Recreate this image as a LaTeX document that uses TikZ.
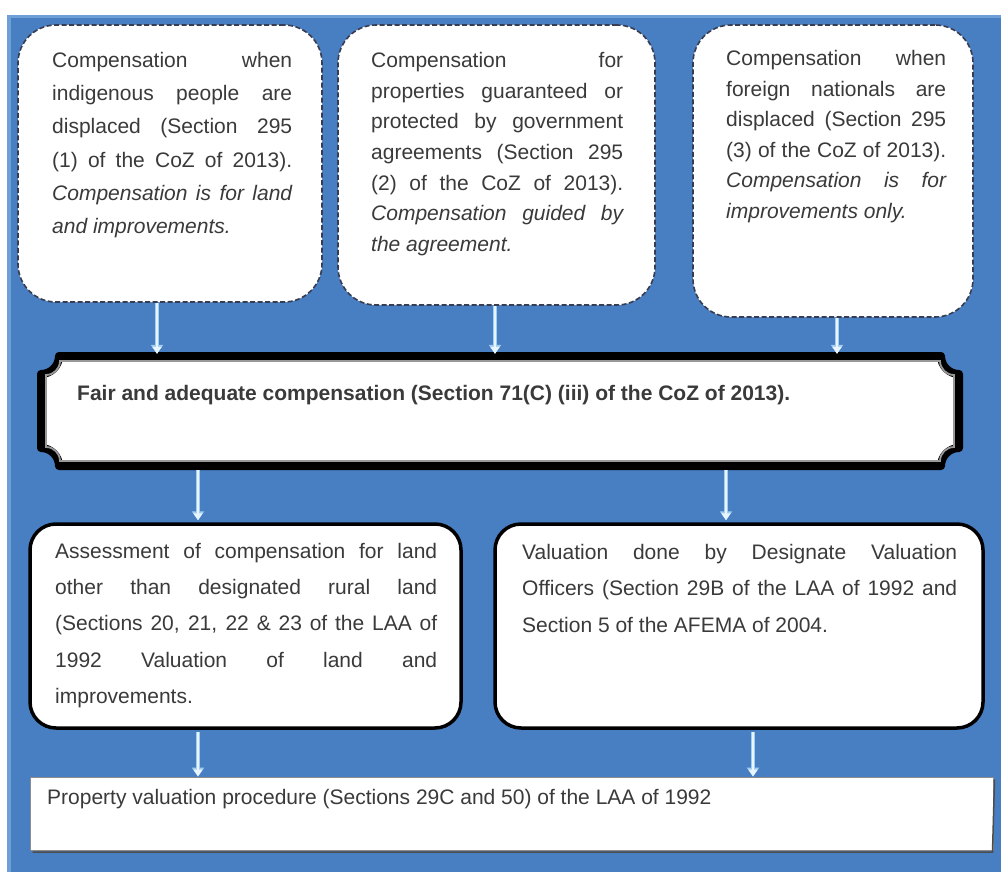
\documentclass[tikz,border=0pt]{standalone}
\usepackage{fontspec}
\setmainfont{Liberation Sans}
\usetikzlibrary{arrows.meta,calc}
\definecolor{bgblue}{RGB}{72,126,194}
\definecolor{bgedge}{RGB}{110,160,215}
\definecolor{txtc}{RGB}{58,58,58}
\definecolor{arrc}{RGB}{232,245,255}
\definecolor{arrd}{RGB}{160,205,240}
\definecolor{dashc}{RGB}{55,60,80}
\hbadness=10000
\begin{document}
\begin{tikzpicture}[x=1pt,y=-1pt,
  topbox/.style={draw=dashc, line width=1.6pt, dash pattern=on 5pt off 2.5pt, fill=white, rounded corners=38pt, inner sep=0pt},
  midbox/.style={draw=black, line width=3.5pt, fill=white, rounded corners=26pt, inner sep=0pt},
  botbox/.style={draw=black!45, line width=1pt, fill=white, inner sep=0pt},
  hidden/.style={inner sep=0pt},
  txt/.style={inner sep=0pt, anchor=north west, text=txtc, align=justify},
  arrhalo/.style={draw=arrd, line width=4.6pt, -{Triangle[length=9pt,width=12pt]}},
  arr/.style={draw=arrc, line width=2.8pt, -{Triangle[length=7pt,width=9pt]}}]
\useasboundingbox (0,0) rectangle (1001,872);
\fill[white] (0,0) rectangle (1001,872);
\fill[bgblue] (7,15) rectangle (1001,872);
\fill[bgedge] (7,15) rectangle (11,872);
\fill[bgedge] (7,15) rectangle (1001,18);

% top boxes
\node[topbox, minimum width=304pt, minimum height=277pt] (b1) at (170,163.5) {};
\node[topbox, minimum width=317pt, minimum height=280pt] (b2) at (496.5,165) {};
\node[topbox, minimum width=280pt, minimum height=292pt] (b3) at (833,171) {};

\node[txt, text width=240pt, font=\fontsize{21}{33.2}\selectfont] (t1) at (52,52)
{Compensation when\linebreak indigenous people are\linebreak displaced (Section 295\linebreak (1) of the CoZ of 2013).\linebreak \textit{Compensation is for land\linebreak and improvements.}};
\node[txt, text width=252pt, font=\fontsize{21}{30.7}\selectfont] (t2) at (371,52)
{Compensation for\linebreak properties guaranteed or\linebreak protected by government\linebreak agreements (Section 295\linebreak (2) of the CoZ of 2013).\linebreak \textit{Compensation guided by\linebreak the agreement.}};
\node[txt, text width=220pt, font=\fontsize{21}{30.6}\selectfont] (t3) at (726,50)
{Compensation when\linebreak foreign nationals are\linebreak displaced (Section 295\linebreak (3) of the CoZ of 2013).\linebreak \textit{Compensation is for\linebreak improvements only.}};

% banner (plaque)
\node[hidden, minimum width=918pt, minimum height=110pt] (fair) at (500,411) {};
\def\plaque#1#2#3#4#5{%
  (#1+#5,#2) -- (#3-#5,#2)
  .. controls (#3-#5,#2+0.55*#5) and (#3-0.55*#5,#2+#5) .. (#3,#2+#5)
  -- (#3,#4-#5)
  .. controls (#3-0.55*#5,#4-#5) and (#3-#5,#4-0.55*#5) .. (#3-#5,#4)
  -- (#1+#5,#4)
  .. controls (#1+#5,#4-0.55*#5) and (#1+0.55*#5,#4-#5) .. (#1,#4-#5)
  -- (#1,#2+#5)
  .. controls (#1+0.55*#5,#2+#5) and (#1+#5,#2+0.55*#5) .. (#1+#5,#2) -- cycle}
\draw[black, line width=8pt, fill=white, line join=round] \plaque{41}{356}{959}{466}{18};
\draw[black!40, line width=1.8pt] \plaque{46}{361}{954}{461}{14};
\node[inner sep=0pt, anchor=base west, text=txtc, font=\bfseries\fontsize{21}{25}\selectfont] (ft) at (77,400)
{Fair and adequate compensation (Section 71(C) (iii) of the CoZ of 2013).};

% middle boxes
\node[midbox, minimum width=431pt, minimum height=204pt] (m1) at (245.5,626) {};
\node[midbox, minimum width=488pt, minimum height=204pt] (m2) at (739,626) {};
\node[txt, text width=382pt, font=\fontsize{21}{36.2}\selectfont] (t4) at (55,543)
{Assessment of compensation for land\linebreak other than designated rural land\linebreak (Sections 20, 21, 22 \& 23 of the LAA of\linebreak 1992 Valuation of land and\linebreak improvements.};
\node[txt, text width=435pt, font=\fontsize{21}{36.5}\selectfont] (t5) at (522,544)
{Valuation done by Designate Valuation\linebreak Officers (Section 29B of the LAA of 1992 and\linebreak Section 5 of the AFEMA of 2004.};

% bottom box
\node[botbox, minimum width=963pt, minimum height=73pt] (bt) at (511.5,813.5) {};
\draw[black!70, line width=1.5pt] (bt.south west) ++(3,1.5) -- ($(bt.south east)+(-1,1.5)$) -- ($(bt.north east)+(1,3)$);
\node[inner sep=0pt, anchor=base west, text=txtc, font=\fontsize{21}{25}\selectfont] (t6) at (47,804)
{Property valuation procedure (Sections 29C and 50) of the LAA of 1992};

% connectors
\coordinate (xa) at (157,0);
\coordinate (xb) at (495,0);
\coordinate (xc) at (837,0);
\coordinate (xd) at (198,0);
\coordinate (xe) at (726,0);
\coordinate (xf) at (753,0);
\foreach \s in {arrhalo,arr}{
\draw[\s] (b1.south -| xa) -- ([yshift=2pt]fair.north -| xa);
\draw[\s] (b2.south -| xb) -- ([yshift=2pt]fair.north -| xb);
\draw[\s] (b3.south -| xc) -- ([yshift=2pt]fair.north -| xc);
\draw[\s] ([yshift=-4pt]fair.south -| xd) -- ([yshift=2pt]m1.north -| xd);
\draw[\s] ([yshift=-4pt]fair.south -| xe) -- ([yshift=2pt]m2.north -| xe);
\draw[\s] ([yshift=-2pt]m1.south -| xd) -- (bt.north -| xd);
\draw[\s] ([yshift=-2pt]m2.south -| xf) -- (bt.north -| xf);
}
\end{tikzpicture}
\end{document}
